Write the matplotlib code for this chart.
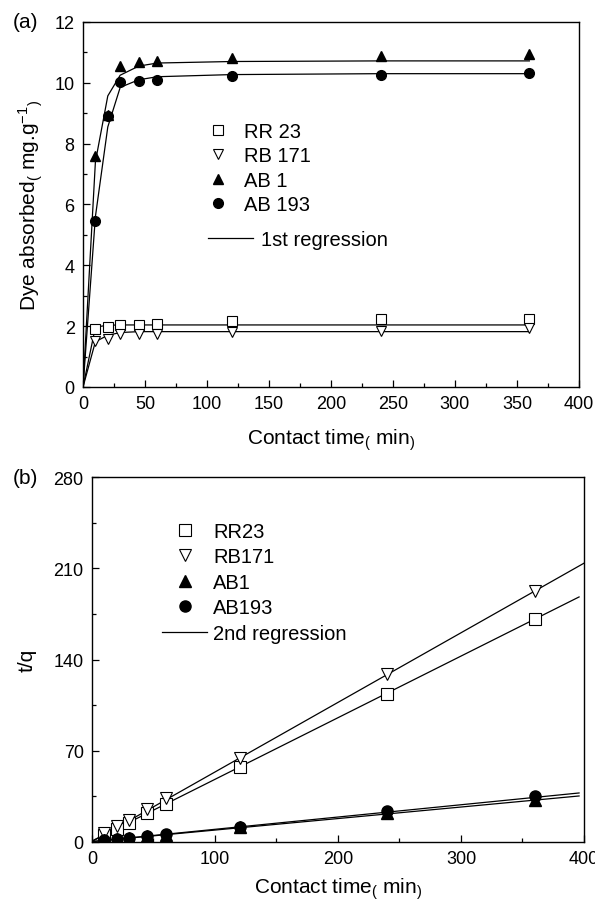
import numpy as np
import matplotlib
matplotlib.use('Agg')
import matplotlib.pyplot as plt
from matplotlib.ticker import MultipleLocator

plt.rcParams['font.family'] = ['Liberation Sans', 'DejaVu Sans']
plt.rcParams['mathtext.fontset'] = 'custom'
plt.rcParams['mathtext.rm'] = 'Liberation Sans'
plt.rcParams['mathtext.it'] = 'Liberation Sans'
plt.rcParams['mathtext.default'] = 'regular'

# contact time (min)
t = [10, 20, 30, 45, 60, 120, 240, 360]

# (a) dye absorbed, mg/g
rr23_q = [1.91, 1.96, 2.04, 2.05, 2.07, 2.18, 2.22, 2.24]
rb171_q = [1.50, 1.58, 1.74, 1.74, 1.74, 1.80, 1.83, 1.93]
ab1_q = [7.6, 8.95, 10.56, 10.68, 10.72, 10.8, 10.87, 10.95]
ab193_q = [5.46, 8.92, 10.03, 10.05, 10.1, 10.23, 10.27, 10.33]

# (a) 1st order regression, read at the knots
fit_t_a = [0, 10, 20, 30, 45, 60, 120, 240, 360]
rr23_fit1 = [0, 1.97, 2.03, 2.04, 2.04, 2.04, 2.04, 2.04, 2.04]
rb171_fit1 = [0, 1.49, 1.70, 1.79, 1.82, 1.82, 1.82, 1.82, 1.82]
ab1_fit1 = [0, 7.4, 9.57, 10.25, 10.55, 10.65, 10.7, 10.72, 10.72]
ab193_fit1 = [0, 5.6, 8.55, 9.85, 10.1, 10.2, 10.27, 10.3, 10.3]

# (b) t/q
rr23_tq = [5.2, 10.2, 14.7, 21.9, 29.0, 57.5, 113.5, 171]
rb171_tq = [6.7, 12.6, 17.2, 25.6, 33.5, 64.4, 129, 192.5]
ab1_tq = [1.3, 2.2, 2.9, 4.3, 5.6, 11.2, 22.2, 32.5]
ab193_tq = [1.8, 2.25, 3.0, 4.5, 5.9, 11.7, 23.4, 35.2]

# (b) 2nd order regression lines (end points)
rr23_fit2 = ([0, 396], [0.8, 188])
rb171_fit2 = ([0, 400], [0.3, 213.9])
ab1_fit2 = ([0, 396], [0.3, 35.3])
ab193_fit2 = ([0, 396], [0.3, 37.6])

open_kw = dict(mfc='white', mec='black', mew=0.8, ls='none', zorder=3)
fill_kw = dict(color='black', ls='none', zorder=3)
line_kw = dict(color='black', lw=0.9, zorder=2)

fig = plt.figure(figsize=(5.95, 9.04), dpi=100)
ax_a = fig.add_axes([0.1395, 0.5708, 0.8335, 0.4038])
ax_b = fig.add_axes([0.1546, 0.0675, 0.8269, 0.4037])

# ---- (a) ----
for f in [rr23_fit1, rb171_fit1, ab1_fit1, ab193_fit1]:
    ax_a.plot(fit_t_a, f, **line_kw)
h1, = ax_a.plot(t, rr23_q, 's', ms=6.5, label='RR 23', **open_kw)
h2, = ax_a.plot(t, rb171_q, 'v', ms=7.5, label='RB 171', **open_kw)
h3, = ax_a.plot(t, ab1_q, '^', ms=7.5, label='AB 1', **fill_kw)
h4, = ax_a.plot(t, ab193_q, 'o', ms=7, label='AB 193', **fill_kw)
hl, = ax_a.plot([], [], label='1st regression', **line_kw)

ax_a.set_xlim(0, 400)
ax_a.set_ylim(0, 12)
ax_a.xaxis.set_major_locator(MultipleLocator(50))
ax_a.xaxis.set_minor_locator(MultipleLocator(25))
ax_a.yaxis.set_major_locator(MultipleLocator(2))
ax_a.yaxis.set_minor_locator(MultipleLocator(1))
ax_a.set_xlabel(r'Contact time$_{(}$ min$_{)}$', fontsize=15, labelpad=10)
ax_a.set_ylabel(r'Dye absorbed$_{(}$ mg.g$^{-1}$$_{)}$', fontsize=15, labelpad=7)

leg1 = ax_a.legend(handles=[h1, h2, h3, h4], loc='upper left', bbox_to_anchor=(0.252, 0.726),
                   frameon=False, fontsize=14.5, handlelength=1.0, handletextpad=0.8,
                   labelspacing=0.27, borderpad=0, borderaxespad=0, numpoints=1)
ax_a.add_artist(leg1)
ax_a.legend(handles=[hl], loc='upper left', bbox_to_anchor=(0.252, 0.43), frameon=False,
            fontsize=14.5, handlelength=2.25, handletextpad=0.4, borderpad=0, borderaxespad=0)
fig.text(0.022, 0.975, '(a)', fontsize=15, va='center', ha='left')

# ---- (b) ----
for ft, fy in [rr23_fit2, rb171_fit2, ab1_fit2, ab193_fit2]:
    ax_b.plot(ft, fy, **line_kw)
ax_b.plot(t, rr23_tq, 's', ms=8, label='RR23', **open_kw)
ax_b.plot(t, rb171_tq, 'v', ms=9, label='RB171', **open_kw)
ax_b.plot(t, ab1_tq, '^', ms=8.5, label='AB1', **fill_kw)
ax_b.plot(t, ab193_tq, 'o', ms=8, label='AB193', **fill_kw)
ax_b.plot([], [], label='2nd regression', **line_kw)

ax_b.set_xlim(0, 400)
ax_b.set_ylim(0, 280)
ax_b.xaxis.set_major_locator(MultipleLocator(100))
ax_b.xaxis.set_minor_locator(MultipleLocator(50))
ax_b.yaxis.set_major_locator(MultipleLocator(70))
ax_b.yaxis.set_minor_locator(MultipleLocator(35))
ax_b.set_xlabel(r'Contact time$_{(}$ min$_{)}$', fontsize=15, labelpad=6)
ax_b.set_ylabel('t/q', fontsize=15, labelpad=12)
ax_b.legend(loc='upper left', bbox_to_anchor=(0.142, 0.877), frameon=False, fontsize=14.5,
            handlelength=2.25, handletextpad=0.3, labelspacing=0.32, borderpad=0,
            borderaxespad=0, numpoints=1)
fig.text(0.022, 0.471, '(b)', fontsize=15, va='center', ha='left')

for ax in [ax_a, ax_b]:
    ax.tick_params(which='both', direction='in', top=False, right=False, labelsize=13, pad=6)
    ax.tick_params(which='major', length=5, width=0.9)
    ax.tick_params(which='minor', length=3, width=0.9)
    for s in ax.spines.values():
        s.set_linewidth(1.0)

plt.savefig('out.png', dpi=100)
